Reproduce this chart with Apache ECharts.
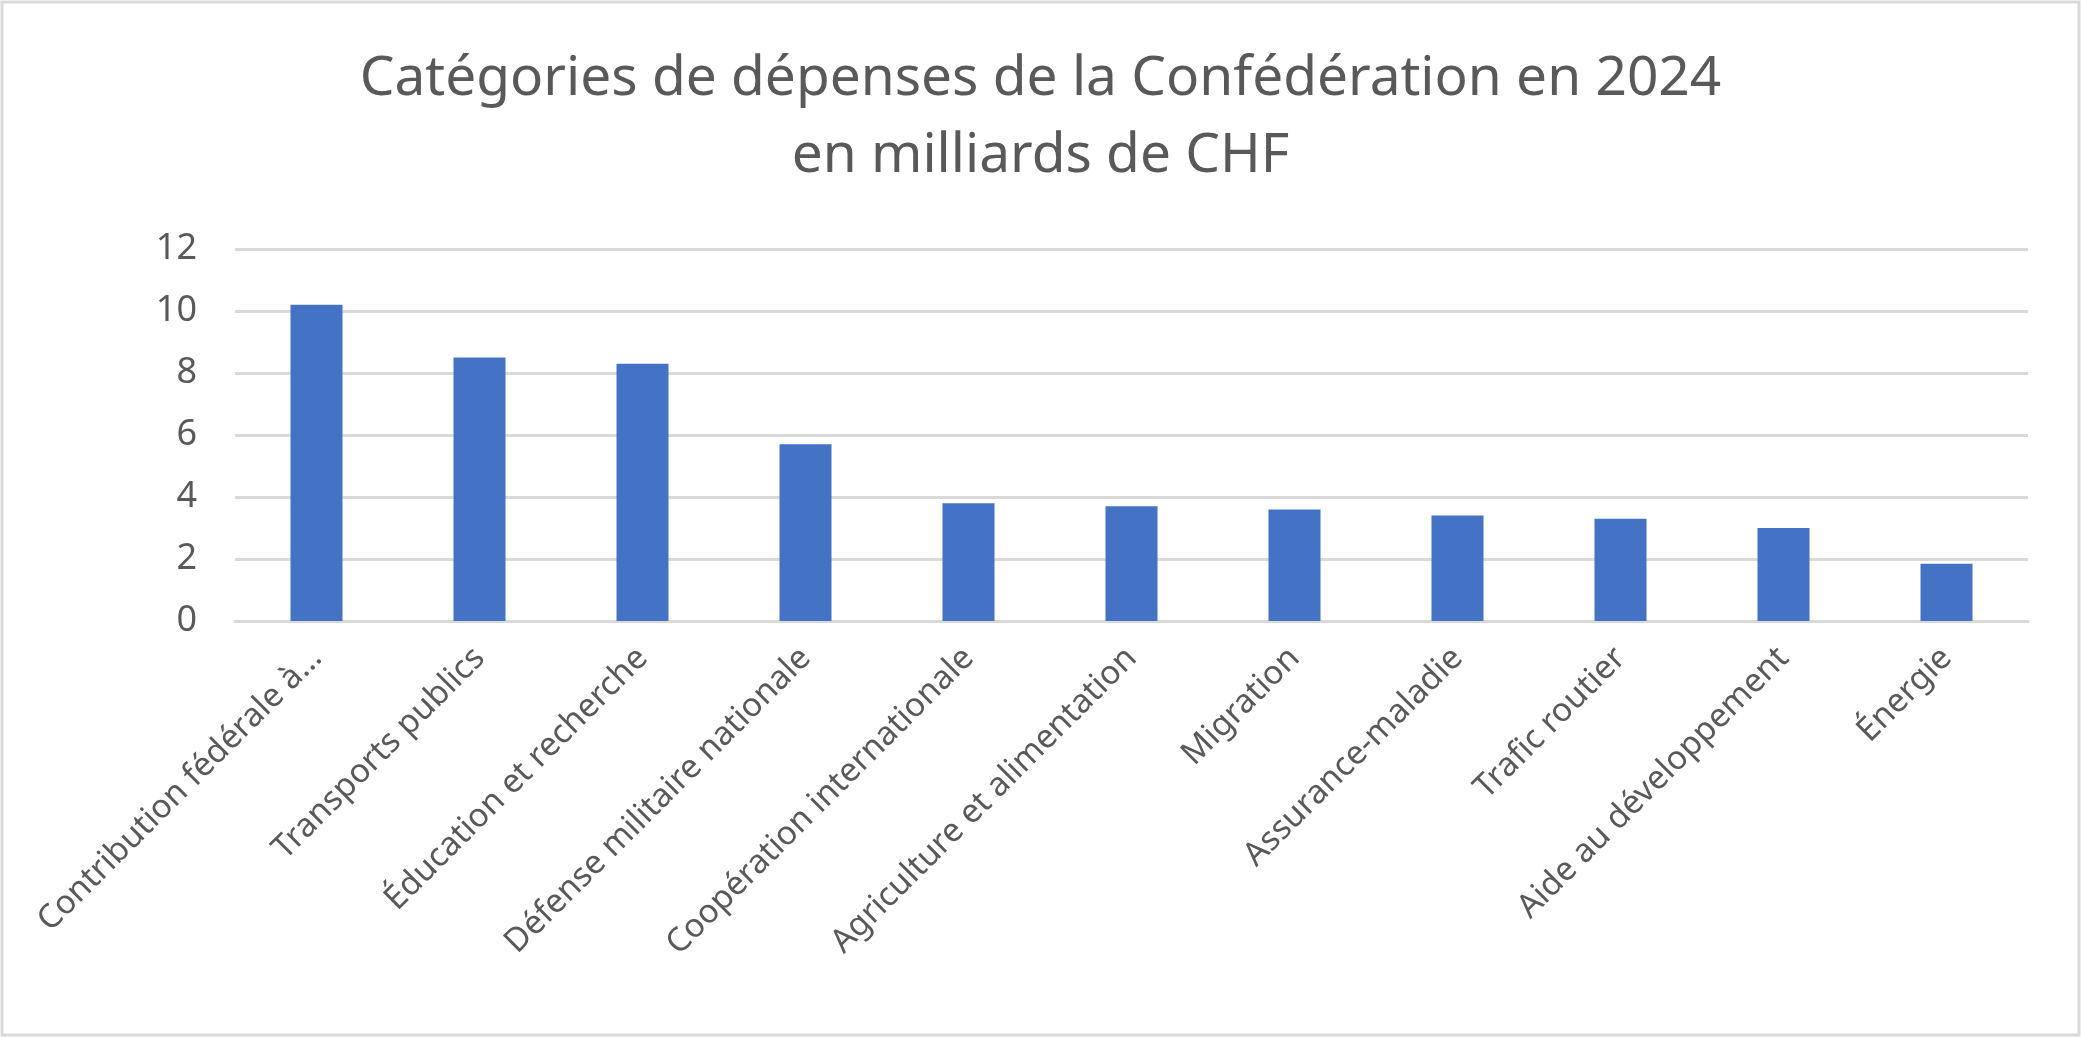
<!DOCTYPE html>
<html>
<head>
<meta charset="utf-8">
<script src="https://cdn.jsdelivr.net/npm/echarts@6/dist/echarts.min.js"></script>
<style>
html,body{margin:0;padding:0;background:#fff;}
#main{width:2081px;height:1037px;}
</style>
</head>
<body>
<div id="main"></div>
<script>
// données (milliards de CHF)
var categories = ['Contribution fédérale à…', 'Transports publics', 'Éducation et recherche',
	'Défense militaire nationale', 'Coopération internationale', 'Agriculture et alimentation',
	'Migration', 'Assurance-maladie', 'Trafic routier', 'Aide au développement', 'Énergie'];
var depenses = [10.2, 8.5, 8.3, 5.7, 3.8, 3.7, 3.6, 3.4, 3.3, 3.0, 1.85];
var yTicks = [0, 2, 4, 6, 8, 10, 12];

var font = "'Noto Sans', 'Open Sans', sans-serif";
var grey = '#595959';

var myChart = echarts.init(document.getElementById('main'));
var option = {
	backgroundColor: '#fff',
	animation: false,
	title: {
		text: 'Catégories de dépenses de la Confédération en 2024\nen milliards de CHF',
		left: 'center',
		top: 36,
		textStyle: {
			fontFamily: font,
			fontSize: 55,
			fontWeight: 'normal',
			color: grey,
			lineHeight: 77
		}
	},
	grid: {
		left: 235,
		right: 53,
		top: 249,
		bottom: 416
	},
	xAxis: {
		type: 'category',
		data: categories,
		axisLine: {lineStyle: {color: '#d9d9d9', width: 3}},
		axisTick: {show: false},
		axisLabel: {
			rotate: 45,
			interval: 0,
			margin: 32,
			fontFamily: font,
			fontSize: 33,
			color: grey
		}
	},
	yAxis: {
		type: 'value',
		min: yTicks[0],
		max: yTicks[yTicks.length - 1],
		interval: 2,
		axisLine: {show: false},
		axisTick: {show: false},
		splitLine: {lineStyle: {color: '#d9d9d9', width: 3}},
		axisLabel: {
			margin: 38,
			fontFamily: font,
			fontSize: 36,
			color: grey
		}
	},
	series: [{
		name: 'Dépenses',
		type: 'bar',
		data: depenses,
		barWidth: 52,
		itemStyle: {color: '#4472C4'}
	}],
	graphic: [{
		type: 'rect',
		shape: {x: 2, y: 2, width: 2077, height: 1033},
		style: {fill: 'none', stroke: '#d9d9d9', lineWidth: 3},
		silent: true
	}]
};
myChart.setOption(option);
</script>
</body>
</html>
